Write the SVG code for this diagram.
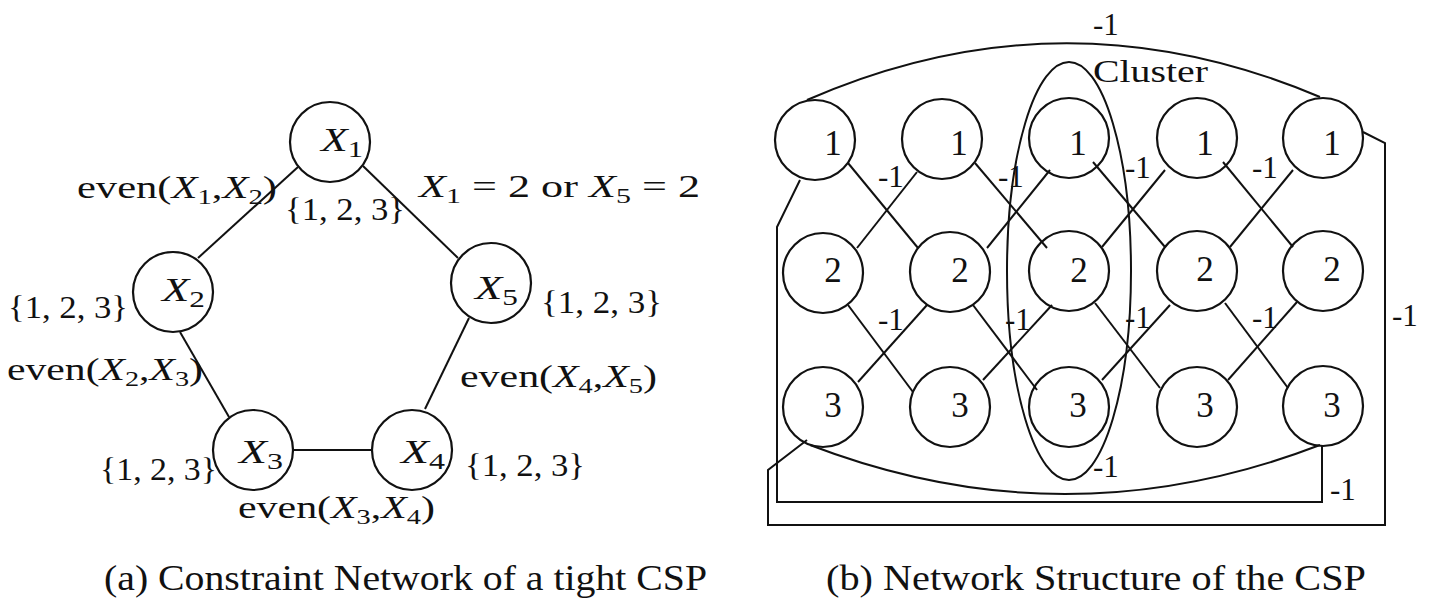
<svg xmlns="http://www.w3.org/2000/svg" width="1437" height="603" viewBox="0 0 1437 603">
<style>
text{font-family:"Liberation Serif","DejaVu Serif",serif;fill:#111}
.lbl{font-size:31px}
.nl{font-size:33px}
.i{font-style:italic}
.sub{font-size:21px}
.nsub{font-size:23px}
.dig{font-size:35px;text-anchor:middle}
.cap{font-size:35px}
.node{fill:none;stroke:#111;stroke-width:2.2}
.ln{fill:none;stroke:#111;stroke-width:2}
</style>
<rect width="1437" height="603" fill="#fff"/>

<!-- Left: constraint network connectors -->
<g id="connectors-a" class="ln">
<line x1="298" y1="167" x2="198" y2="258"/>
<line x1="363" y1="166" x2="458" y2="258"/>
<line x1="180" y1="332" x2="229" y2="417"/>
<line x1="293" y1="450" x2="372" y2="450"/>
<line x1="425" y1="409" x2="469" y2="318"/>
</g>
<g id="edge-labels-a">
<text class="lbl" x="77" y="198" textLength="200" lengthAdjust="spacingAndGlyphs">even(<tspan class="i">X</tspan><tspan class="sub" dy="6">1</tspan><tspan dy="-6">,</tspan><tspan class="i">X</tspan><tspan class="sub" dy="6">2</tspan><tspan dy="-6">)</tspan></text>
<text class="lbl" x="419" y="197" textLength="281" lengthAdjust="spacingAndGlyphs"><tspan class="i">X</tspan><tspan class="sub" dy="6">1</tspan><tspan dy="-6"> = 2 or </tspan><tspan class="i">X</tspan><tspan class="sub" dy="6">5</tspan><tspan dy="-6"> = 2</tspan></text>
<text class="lbl" x="7" y="380" textLength="196" lengthAdjust="spacingAndGlyphs">even(<tspan class="i">X</tspan><tspan class="sub" dy="6">2</tspan><tspan dy="-6">,</tspan><tspan class="i">X</tspan><tspan class="sub" dy="6">3</tspan><tspan dy="-6">)</tspan></text>
<text class="lbl" x="460" y="387" textLength="197" lengthAdjust="spacingAndGlyphs">even(<tspan class="i">X</tspan><tspan class="sub" dy="6">4</tspan><tspan dy="-6">,</tspan><tspan class="i">X</tspan><tspan class="sub" dy="6">5</tspan><tspan dy="-6">)</tspan></text>
<text class="lbl" x="238" y="518" textLength="197" lengthAdjust="spacingAndGlyphs">even(<tspan class="i">X</tspan><tspan class="sub" dy="6">3</tspan><tspan dy="-6">,</tspan><tspan class="i">X</tspan><tspan class="sub" dy="6">4</tspan><tspan dy="-6">)</tspan></text>
</g>

<g id="X1">
<circle class="node" cx="330" cy="142" r="40"/>
<text class="nl" x="321" y="151" textLength="42" lengthAdjust="spacingAndGlyphs"><tspan class="i">X</tspan><tspan class="nsub" dy="6">1</tspan></text>
<text class="lbl" x="285" y="220" textLength="120" lengthAdjust="spacingAndGlyphs">{1, 2, 3}</text>
</g>
<g id="X2">
<circle class="node" cx="173" cy="292" r="40"/>
<text class="nl" x="162" y="301" textLength="43" lengthAdjust="spacingAndGlyphs"><tspan class="i">X</tspan><tspan class="nsub" dy="6">2</tspan></text>
<text class="lbl" x="8" y="318" textLength="120" lengthAdjust="spacingAndGlyphs">{1, 2, 3}</text>
</g>
<g id="X3">
<circle class="node" cx="253" cy="450" r="40"/>
<text class="nl" x="239" y="463" textLength="44" lengthAdjust="spacingAndGlyphs"><tspan class="i">X</tspan><tspan class="nsub" dy="6">3</tspan></text>
<text class="lbl" x="100" y="480" textLength="117" lengthAdjust="spacingAndGlyphs">{1, 2, 3}</text>
</g>
<g id="X4">
<circle class="node" cx="412" cy="450" r="40"/>
<text class="nl" x="401" y="463" textLength="44" lengthAdjust="spacingAndGlyphs"><tspan class="i">X</tspan><tspan class="nsub" dy="6">4</tspan></text>
<text class="lbl" x="465" y="476" textLength="120" lengthAdjust="spacingAndGlyphs">{1, 2, 3}</text>
</g>
<g id="X5">
<circle class="node" cx="491" cy="283" r="40"/>
<text class="nl" x="475" y="299" textLength="43" lengthAdjust="spacingAndGlyphs"><tspan class="i">X</tspan><tspan class="nsub" dy="6">5</tspan></text>
<text class="lbl" x="541" y="313" textLength="121" lengthAdjust="spacingAndGlyphs">{1, 2, 3}</text>
</g>

<text id="caption-a" class="cap" x="104" y="590" textLength="603" lengthAdjust="spacingAndGlyphs">(a) Constraint Network of a tight CSP</text>

<!-- Right: network structure connectors -->
<g id="connectors-b" class="ln">
<line x1="848" y1="163" x2="918" y2="248"/>
<line x1="917" y1="172" x2="857" y2="248"/>
<line x1="975" y1="163" x2="1047" y2="248"/>
<line x1="1050" y1="170" x2="987" y2="248"/>
<line x1="1093" y1="162" x2="1165" y2="247"/>
<line x1="1165" y1="170" x2="1102" y2="247"/>
<line x1="1223" y1="162" x2="1293" y2="247"/>
<line x1="1293" y1="170" x2="1230" y2="247"/>
<line x1="848" y1="305" x2="913" y2="392"/>
<line x1="927" y1="305" x2="858" y2="382"/>
<line x1="973" y1="305" x2="1037" y2="390"/>
<line x1="1052" y1="305" x2="983" y2="380"/>
<line x1="1095" y1="303" x2="1160" y2="388"/>
<line x1="1170" y1="305" x2="1102" y2="380"/>
<line x1="1225" y1="303" x2="1288" y2="388"/>
<line x1="1297" y1="302" x2="1228" y2="380"/>
<path d="M807,100 Q1063,-12 1320,97"/>
<path d="M1363,132 L1385,143 L1385,525 L768,525 L768,470 L807,440"/>
<path d="M800,180 L777,227 L777,502 L1322,502 L1322,446"/>
<path d="M810,445 Q1065,543 1320,445"/>
</g>
<g id="weight-labels" class="lbl">
<text x="878" y="187">-1</text>
<text x="998" y="187">-1</text>
<text x="1125" y="178">-1</text>
<text x="1252" y="178">-1</text>
<text x="878" y="330">-1</text>
<text x="1005" y="330">-1</text>
<text x="1125" y="328">-1</text>
<text x="1252" y="328">-1</text>
<text x="1093" y="35">-1</text>
<text x="1392" y="326">-1</text>
<text x="1330" y="500">-1</text>
<text x="1093" y="477">-1</text>
</g>

<g id="cluster">
<ellipse class="ln" cx="1069" cy="271" rx="62" ry="209"/>
<text class="lbl" x="1093" y="82" textLength="115" lengthAdjust="spacingAndGlyphs">Cluster</text>
</g>

<g id="n1-1"><circle class="node" cx="815" cy="140" r="40"/><text class="dig" x="833" y="155">1</text></g>
<g id="n2-1"><circle class="node" cx="942" cy="139" r="40"/><text class="dig" x="959" y="155">1</text></g>
<g id="n3-1"><circle class="node" cx="1069" cy="138" r="40"/><text class="dig" x="1078" y="155">1</text></g>
<g id="n4-1"><circle class="node" cx="1197" cy="138" r="40"/><text class="dig" x="1205" y="155">1</text></g>
<g id="n5-1"><circle class="node" cx="1323" cy="138" r="40"/><text class="dig" x="1332" y="155">1</text></g>

<g id="n1-2"><circle class="node" cx="823" cy="273" r="40"/><text class="dig" x="833" y="282">2</text></g>
<g id="n2-2"><circle class="node" cx="950" cy="272" r="40"/><text class="dig" x="960" y="282">2</text></g>
<g id="n3-2"><circle class="node" cx="1069" cy="271" r="40"/><text class="dig" x="1079" y="282">2</text></g>
<g id="n4-2"><circle class="node" cx="1197" cy="271" r="40"/><text class="dig" x="1205" y="281">2</text></g>
<g id="n5-2"><circle class="node" cx="1323" cy="271" r="40"/><text class="dig" x="1332" y="281">2</text></g>

<g id="n1-3"><circle class="node" cx="823" cy="407" r="40"/><text class="dig" x="833" y="417">3</text></g>
<g id="n2-3"><circle class="node" cx="950" cy="407" r="40"/><text class="dig" x="960" y="417">3</text></g>
<g id="n3-3"><circle class="node" cx="1069" cy="407" r="40"/><text class="dig" x="1078" y="417">3</text></g>
<g id="n4-3"><circle class="node" cx="1197" cy="407" r="40"/><text class="dig" x="1205" y="417">3</text></g>
<g id="n5-3"><circle class="node" cx="1323" cy="406" r="40"/><text class="dig" x="1332" y="417">3</text></g>

<text id="caption-b" class="cap" x="826" y="590" textLength="540" lengthAdjust="spacingAndGlyphs">(b) Network Structure of the CSP</text>
</svg>
